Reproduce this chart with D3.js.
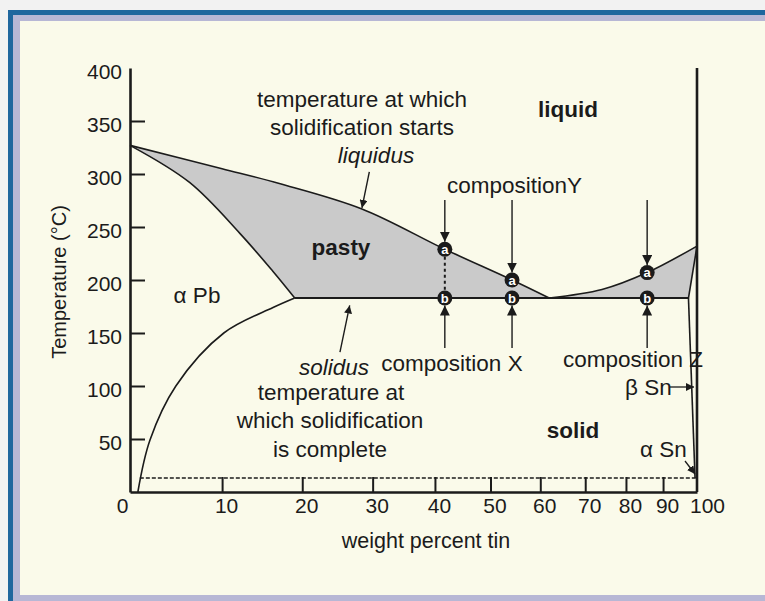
<!DOCTYPE html>
<html>
<head>
<meta charset="utf-8">
<script src="https://cdn.jsdelivr.net/npm/d3@7"></script>
<style>
  body { margin: 0; background: #f2f2f2; }
  svg text { font-family: "Liberation Sans", Arial, Helvetica, sans-serif; fill: #1b1b1b; }
</style>
</head>
<body>
<svg id="chart" width="765" height="601"></svg>
<script>
// Pb-Sn phase diagram, x = weight percent tin, y = temperature (°C)
var xTicks = [0, 10, 20, 30, 40, 50, 60, 70, 80, 90, 100];
var yTicks = [50, 100, 150, 200, 250, 300, 350, 400];

var liquidusPb = [[0, 327], [10, 305], [17, 291], [28.4, 267], [41.7, 229], [54.2, 200], [61.9, 183]];
var solidusPb  = [[0, 327], [6.3, 292], [12.1, 244], [16.2, 208], [19, 183]];
var solvusPb   = [[0.8, 0], [2.05, 49], [4.8, 100], [10.2, 150], [16.2, 174], [19, 183]];
var liquidusSn = [[61.9, 183], [74, 191], [85.6, 207], [100, 232]];
var solidusSn  = [[97.4, 183], [100, 232]];
var solvusSn   = [[97.4, 183], [99.4, 13.2]];
var eutecticT = 183;
var eutecticRange = [19, 97.4];
var transitionT = 13.2;   // alpha / beta tin
var transitionRange = [1.0, 100];

var compositions = [41.7, 54.2, 85.6];
var compLiquidusT = [229, 200, 207];

(function(){

    var svg = d3.select("#chart");

    // frame
    svg.append("rect").attr("x", 8).attr("y", 10).attr("width", 800).attr("height", 600).attr("fill", "#1f679e");
    svg.append("rect").attr("x", 13).attr("y", 15).attr("width", 800).attr("height", 600).attr("fill", "#b7b7d5");
    svg.append("rect").attr("x", 20).attr("y", 21).attr("width", 800).attr("height", 574).attr("fill", "#fafaea");

    // the axis is atomic percent, labelled in weight percent
    function atomicPct(w) {
        var a = w / 118.71, b = (100 - w) / 207.2;
        return 100 * a / (a + b);
    }
    var xa = d3.scaleLinear().domain([0, 100]).range([130, 697]);
    var x = function(w) { return xa(atomicPct(w)); };
    var y = d3.scaleLinear().domain([0, 400]).range([492, 68]);

    var line = d3.line()
        .x(function(d) { return x(d[0]); })
        .y(function(d) { return y(d[1]); })
        .curve(d3.curveCatmullRom.alpha(0.5));

    // pasty regions
    var leftFill = line(liquidusPb) + "L" + line(solidusPb.slice().reverse()).slice(1) + "Z";
    var rightFill = line(liquidusSn) + "L" + line(solidusSn.slice().reverse()).slice(1) + "Z";
    svg.append("path").attr("d", leftFill).attr("fill", "#cacaca");
    svg.append("path").attr("d", rightFill).attr("fill", "#cacaca");

    // phase boundaries
    [liquidusPb, solidusPb, solvusPb, liquidusSn, solidusSn, solvusSn].forEach(function(pts) {
        svg.append("path").attr("d", line(pts))
            .attr("fill", "none").attr("stroke", "#1b1b1b").attr("stroke-width", 1.6);
    });
    svg.append("line")
        .attr("x1", x(eutecticRange[0])).attr("x2", x(eutecticRange[1]))
        .attr("y1", y(eutecticT)).attr("y2", y(eutecticT))
        .attr("stroke", "#1b1b1b").attr("stroke-width", 1.8);

    // alpha/beta tin transition
    svg.append("line")
        .attr("x1", x(transitionRange[0])).attr("x2", x(transitionRange[1]))
        .attr("y1", y(transitionT)).attr("y2", y(transitionT))
        .attr("stroke", "#1b1b1b").attr("stroke-width", 1.4)
        .attr("stroke-dasharray", "4,2");

    // axes
    var yAxis = svg.append("g")
        .attr("transform", "translate(" + x(0) + ",0)")
        .call(d3.axisLeft(y).tickValues(yTicks).tickSize(-15).tickSizeOuter(0).tickPadding(8));
    yAxis.selectAll(".tick").filter(function(d) { return d === 400; }).select("line").remove();

    var xAxis = svg.append("g")
        .attr("transform", "translate(0," + y(0) + ")")
        .call(d3.axisBottom(xa)
            .tickValues(xTicks.map(atomicPct))
            .tickFormat(function(d, i) { return xTicks[i]; })
            .tickSize(-15).tickSizeOuter(0).tickPadding(6));
    xAxis.selectAll(".tick").filter(function(d, i) { return i === 0 || i === xTicks.length - 1; })
        .select("line").remove();
    xAxis.selectAll(".tick text").attr("dx", function(d, i) {
        if (i === 0) return -8;
        if (i === xTicks.length - 1) return 10;
        return 4;
    });

    [yAxis, xAxis].forEach(function(g) {
        g.attr("color", "#1b1b1b").attr("font-size", 21).attr("font-family", null);
        g.select(".domain").attr("stroke-width", 2.6);
        g.selectAll(".tick line").attr("stroke-width", 2);
    });
    yAxis.selectAll(".tick text").attr("dy", "0.5em");

    // right edge (100% tin)
    svg.append("line")
        .attr("x1", x(100)).attr("x2", x(100))
        .attr("y1", y(0)).attr("y2", y(400))
        .attr("stroke", "#1b1b1b").attr("stroke-width", 2.6);

    svg.append("text")
        .attr("transform", "translate(66,282) rotate(-90)")
        .attr("text-anchor", "middle").attr("font-size", 20)
        .text("Temperature (°C)");
    svg.append("text")
        .attr("x", 426).attr("y", 548)
        .attr("text-anchor", "middle").attr("font-size", 21.5)
        .text("weight percent tin");

    // arrow heads
    var defs = svg.append("defs");
    function marker(id, size) {
        defs.append("marker")
            .attr("id", id).attr("viewBox", "0 0 10 10")
            .attr("refX", 10).attr("refY", 5)
            .attr("markerWidth", size).attr("markerHeight", size)
            .attr("markerUnits", "userSpaceOnUse").attr("orient", "auto")
            .append("path").attr("d", "M0,0L10,5L0,10Z").attr("fill", "#1b1b1b");
    }
    marker("big", 10);
    marker("small", 8);

    function arrow(p0, p1, id) {
        svg.append("line")
            .attr("x1", x(p0[0])).attr("y1", y(p0[1]))
            .attr("x2", x(p1[0])).attr("y2", y(p1[1]))
            .attr("stroke", "#1b1b1b").attr("stroke-width", 1.4)
            .attr("marker-end", "url(#" + id + ")");
    }

    var r = 7.5;
    compositions.forEach(function(c, i) {
        var ya = y(compLiquidusT[i]), yb = y(eutecticT);
        // down arrow to liquidus, up arrow to solidus
        svg.append("line")
            .attr("x1", x(c)).attr("x2", x(c)).attr("y1", 200).attr("y2", ya - r)
            .attr("stroke", "#1b1b1b").attr("stroke-width", 1.4).attr("marker-end", "url(#big)");
        svg.append("line")
            .attr("x1", x(c)).attr("x2", x(c)).attr("y1", 348).attr("y2", yb + r)
            .attr("stroke", "#1b1b1b").attr("stroke-width", 1.4).attr("marker-end", "url(#big)");
        if (i === 0) {
            svg.append("line")
                .attr("x1", x(c)).attr("x2", x(c)).attr("y1", ya + r).attr("y2", yb - r)
                .attr("stroke", "#1b1b1b").attr("stroke-width", 2).attr("stroke-dasharray", "3,3");
        }
        [[ya, "a"], [yb, "b"]].forEach(function(p) {
            svg.append("circle").attr("cx", x(c)).attr("cy", p[0]).attr("r", r).attr("fill", "#1b1b1b");
            svg.append("text").attr("x", x(c)).attr("y", p[0]).attr("dy", "0.36em")
                .attr("text-anchor", "middle").attr("font-size", 13).attr("font-weight", "bold")
                .style("fill", "#ffffff").text(p[1]);
        });
    });

    // pointers to liquidus / solidus and the tin phases
    arrow([29.5, 302], [28.4, 268], "small");
    arrow([25.2, 132], [26.6, 176], "small");
    svg.append("line").attr("x1", 670).attr("x2", 694).attr("y1", 387).attr("y2", 387)
        .attr("stroke", "#1b1b1b").attr("stroke-width", 1.3).attr("marker-end", "url(#small)");
    svg.append("line").attr("x1", 685).attr("x2", 695).attr("y1", 461).attr("y2", 474)
        .attr("stroke", "#1b1b1b").attr("stroke-width", 1.3).attr("marker-end", "url(#small)");

    // labels
    var labels = [
        { t: "temperature at which", x: 362, y: 107, a: "middle" },
        { t: "solidification starts", x: 362, y: 135, a: "middle" },
        { t: "liquidus", x: 376, y: 163, a: "middle", s: "italic" },
        { t: "compositionY", x: 447, y: 193, a: "start" },
        { t: "liquid", x: 568, y: 117, a: "middle", w: "bold" },
        { t: "pasty", x: 341, y: 255, a: "middle", w: "bold" },
        { t: "α Pb", x: 197, y: 303, a: "middle" },
        { t: "solidus", x: 334, y: 375, a: "middle", s: "italic" },
        { t: "composition X", x: 452, y: 371, a: "middle" },
        { t: "temperature at", x: 331, y: 400, a: "middle" },
        { t: "which solidification", x: 330, y: 428, a: "middle" },
        { t: "is complete", x: 330, y: 457, a: "middle" },
        { t: "solid", x: 573, y: 438, a: "middle", w: "bold" },
        { t: "composition Z", x: 563, y: 367, a: "start" },
        { t: "β Sn", x: 625, y: 395, a: "start" },
        { t: "α Sn", x: 640, y: 457, a: "start" }
    ];
    labels.forEach(function(l) {
        svg.append("text")
            .attr("x", l.x).attr("y", l.y)
            .attr("text-anchor", l.a).attr("font-size", 22.5)
            .attr("font-style", l.s || "normal")
            .attr("font-weight", l.w || "normal")
            .text(l.t);
    });

}());
</script>
</body>
</html>
